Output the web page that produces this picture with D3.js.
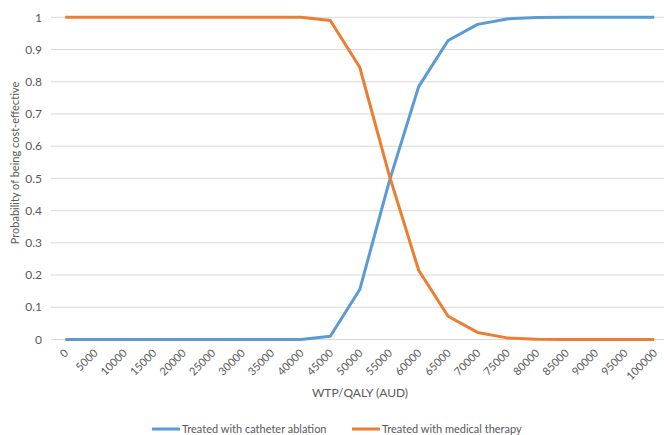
<!DOCTYPE html>
<html>
<head>
<meta charset="utf-8">
<script src="https://cdn.jsdelivr.net/npm/d3@7"></script>
<style>
  body { margin: 0; background: #fff; }
  text { font-family: Lato, "Open Sans", sans-serif; fill: #595959; }
</style>
</head>
<body>
<div class="chart"></div>
<script>
const wtp = [0, 5000, 10000, 15000, 20000, 25000, 30000, 35000, 40000, 45000, 50000,
  55000, 60000, 65000, 70000, 75000, 80000, 85000, 90000, 95000, 100000];
const ablation = [0, 0, 0, 0, 0, 0, 0, 0, 0, 0.01, 0.155,
  0.49, 0.785, 0.928, 0.978, 0.995, 0.999, 1, 1, 1, 1];
const medical = [1, 1, 1, 1, 1, 1, 1, 1, 1, 0.99, 0.845,
  0.51, 0.215, 0.072, 0.022, 0.005, 0.001, 0, 0, 0, 0];
const yTicks = [0, 0.1, 0.2, 0.3, 0.4, 0.5, 0.6, 0.7, 0.8, 0.9, 1];
const seriesNames = ['Treated with catheter ablation', 'Treated with medical therapy'];
const colors = ['#5b9bd5', '#ed7d31'];

const outerWidth = 664;
const outerHeight = 435;

const svg = d3.select('.chart')
  .append('svg')
    .attr('width', outerWidth)
    .attr('height', outerHeight);

const x = d3.scalePoint()
  .domain(wtp)
  .range([50.5, 669])
  .padding(0.5);

const y = d3.scaleLinear()
  .domain([0, 1])
  .range([339.5, 17.3]);

// gridlines
svg.append('g')
  .selectAll('line')
  .data(yTicks)
  .join('line')
    .attr('x1', 51)
    .attr('x2', 664)
    .attr('y1', d => y(d))
    .attr('y2', d => y(d))
    .attr('stroke', '#d9d9d9')
    .attr('stroke-width', 1);

// y tick labels
svg.append('g')
  .selectAll('text')
  .data(yTicks)
  .join('text')
    .attr('x', 42)
    .attr('y', d => y(d))
    .attr('dy', '0.35em')
    .attr('text-anchor', 'end')
    .style('font-size', '12px')
    .text(d => d);

// x tick labels
svg.append('g')
  .selectAll('text')
  .data(wtp)
  .join('text')
    .attr('transform', d => `translate(${x(d) + 1}, 351) rotate(-45)`)
    .attr('dy', '0.35em')
    .attr('text-anchor', 'end')
    .style('font-size', '11px')
    .text(d => d);

// axis titles
svg.append('text')
  .attr('x', 360)
  .attr('y', 397)
  .attr('text-anchor', 'middle')
  .style('font-size', '12px')
  .text('WTP/QALY (AUD)');

svg.append('text')
  .attr('transform', 'translate(19, 163) rotate(-90)')
  .attr('text-anchor', 'middle')
  .style('font-size', '11px')
  .text('Probability of being cost-effective');

// lines
const line = d3.line()
  .x((d, i) => x(wtp[i]))
  .y(d => y(d));

[ablation, medical].forEach((vals, k) => {
  svg.append('path')
    .datum(vals)
    .attr('fill', 'none')
    .attr('stroke', colors[k])
    .attr('stroke-width', 3)
    .attr('stroke-linejoin', 'round')
    .attr('d', line);
});

// legend
const legend = svg.append('g')
  .selectAll('g')
  .data(seriesNames)
  .join('g')
    .attr('transform', (d, i) => `translate(${152 + i * 200}, 429)`);

legend.append('line')
  .attr('x1', 0)
  .attr('x2', 28)
  .attr('stroke', (d, i) => colors[i])
  .attr('stroke-width', 3);

legend.append('text')
  .attr('x', 30)
  .attr('dy', '0.35em')
  .style('font-size', '11px')
  .text(d => d);
</script>
</body>
</html>
